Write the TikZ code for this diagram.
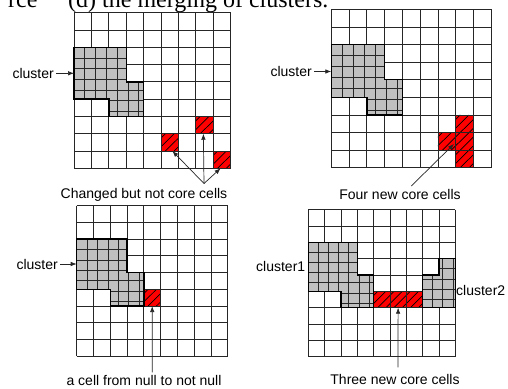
\documentclass[tikz,border=0pt]{standalone}
\usepackage{fontspec}
\setmainfont{Liberation Serif}
\newfontfamily\labfont{Liberation Sans}
\usetikzlibrary{arrows.meta}
\definecolor{cellgray}{HTML}{C0C0C0}
\definecolor{cellred}{HTML}{FF0000}
\tikzset{
  gline/.style={draw=black!85, line width=0.8pt},
  grayborder/.style={draw=black, line width=1.4pt, line join=miter},
  fineline/.style={draw=black!85, line width=0.8pt},
  hatch/.style={draw=black, line width=0.7pt},
  lab/.style={font=\labfont\fontsize{14}{16}\selectfont, inner sep=0pt},
  toptext/.style={font=\fontsize{24}{28}\selectfont, inner sep=0pt},
  arr/.style={-{Latex[length=6pt,width=4.5pt]}, line width=0.7pt, draw=black!85},
}
\newcommand\gridbody{%
  \foreach \i in {0,...,9} {
    \draw[gline] (\i,0) -- (\i,9);
    \draw[gline] (0,\i) -- (9,\i);
  }
}
\newcommand\redcell[2]{%
  \begin{scope}
    \fill[cellred] (#1,#2) rectangle ++(1,1);
    \clip (#1,#2) rectangle ++(1,1);
    \foreach \k in {0.25,0.75,1.25,1.75}
      \draw[hatch] (#1+\k-1,#2+1) -- ++(1,-1);
  \end{scope}
  \draw[gline] (#1,#2) rectangle ++(1,1);
}
\newcommand\grayregion[5]{%
  \fill[cellgray] #1;
  \begin{scope}
    \clip #1;
    \foreach \t in {1,...,7} {
      \draw[fineline] (#2+0.62*\t,#4) -- (#2+0.62*\t,#5);
      \draw[fineline] (#2,#4+0.62*\t) -- (#3,#4+0.62*\t);
    }
  \end{scope}
  \draw[grayborder] #1;
}
\begin{document}
\begin{tikzpicture}[x=1pt,y=-1pt]
\useasboundingbox (0,0) rectangle (508,388);
\clip (0,0) rectangle (508,388);
\fill[white] (0,0) rectangle (508,388);

\node[toptext, anchor=base west] (title) at (8,8) {rce\hspace{30.7pt}(d) the merging of clusters.};

% ---------- grid 1 ----------
\begin{scope}[shift={(74,12.7)}, x=17.41pt, y=-17.29pt]
  \gridbody
  \redcell{5}{7}
  \redcell{7}{6}
  \redcell{8}{8}
  \grayregion{(0,2) -- (3,2) -- (3,4) -- (4,4) -- (4,6) -- (2,6) -- (2,5) -- (0,5) -- cycle}{0}{4}{2}{6}
  \coordinate (g1l) at (0,3.5);
  \coordinate (g1a) at (5.65,8);
  \coordinate (g1b) at (7.43,7);
  \coordinate (g1c) at (8.42,9);
\end{scope}

% ---------- grid 2 ----------
\begin{scope}[shift={(331.3,9.3)}, x=17.78pt, y=-17.6pt]
  \gridbody
  \redcell{7}{6}
  \redcell{7}{7}
  \redcell{7}{8}
  \redcell{6}{7}
  \grayregion{(0,2) -- (3,2) -- (3,4) -- (4,4) -- (4,6) -- (2,6) -- (2,5) -- (0,5) -- cycle}{0}{4}{2}{6}
  \coordinate (g2l) at (0,3.5);
  \coordinate (g2a) at (6.9,7.65);
\end{scope}

% ---------- grid 3 ----------
\begin{scope}[shift={(76.7,205.7)}, x=16.78pt, y=-16.73pt]
  \gridbody
  \redcell{4}{5}
  \grayregion{(0,2) -- (3,2) -- (3,4) -- (4,4) -- (4,6) -- (2,6) -- (2,5) -- (0,5) -- cycle}{0}{4}{2}{6}
  \coordinate (g3l) at (0,3.5);
  \coordinate (g3a) at (4.5,6);
\end{scope}

% ---------- grid 4 ----------
\begin{scope}[shift={(308.3,209.7)}, x=16.33pt, y=-16.33pt]
  \gridbody
  \redcell{4}{5}
  \redcell{5}{5}
  \redcell{6}{5}
  \grayregion{(0,2) -- (3,2) -- (3,4) -- (4,4) -- (4,6) -- (2,6) -- (2,5) -- (0,5) -- cycle}{0}{4}{2}{6}
  \grayregion{(8,3) -- (9,3) -- (9,6) -- (7,6) -- (7,4) -- (8,4) -- cycle}{7}{9}{3}{6}
  \coordinate (g4a) at (5.5,6);
\end{scope}

% ---------- labels ----------
\node[lab, anchor=base east] (cl1) at (54,78.3) {cluster};
\node[lab, anchor=base east] (cl2) at (312,76.5) {cluster};
\node[lab, anchor=base east] (cl3) at (58,269) {cluster};
\node[lab, anchor=base west] (cl41) at (256,271.3) {cluster1};
\node[lab, anchor=base west] (cl42) at (456,295.7) {cluster2};

\node[lab, anchor=base] (t1) at (144,198.5) {Changed but not core cells};
\node[lab, anchor=base] (t2) at (400,199) {Four new core cells};
\node[lab, anchor=base] (t3) at (144,385.5) {a cell from null to not null};
\node[lab, anchor=base] (t4) at (395,384.5) {Three new core cells};

\coordinate (s1) at (204,183.5);
\coordinate (s2) at (411.3,186);
\coordinate (s3) at (152.3,372.3);
\coordinate (s4) at (398,367.3);

% ---------- arrows ----------
\draw[arr, shorten <=2pt] (cl1.east) -- (cl1.east -| g1l);
\draw[arr, shorten <=2pt] (cl2.east) -- (cl2.east -| g2l);
\draw[arr, shorten <=2pt] (cl3.east) -- (cl3.east -| g3l);
\draw[arr] (s1) -- (g1a);
\draw[arr] (s1) -- (g1b);
\draw[arr] (s1) -- (g1c);
\draw[arr] (s2) -- (g2a);
\draw[arr] (s3) -- (g3a);
\draw[arr] (s4) -- (g4a);
\end{tikzpicture}
\end{document}
